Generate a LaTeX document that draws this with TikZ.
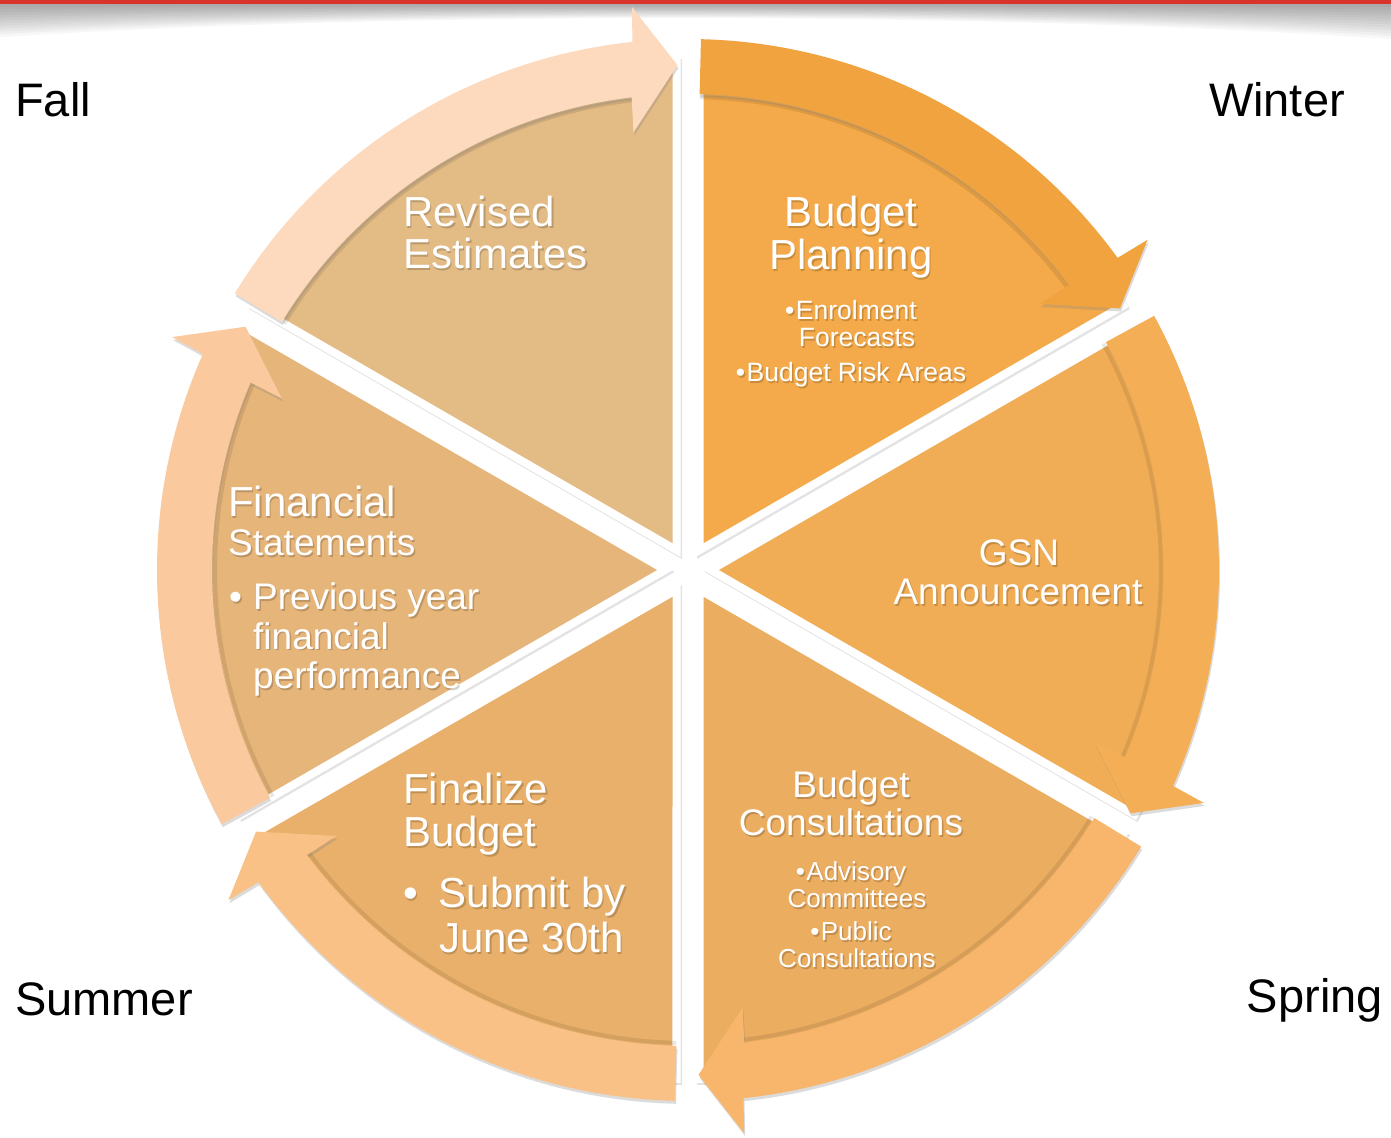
\documentclass[tikz,border=0pt]{standalone}
\usepackage{fontspec}
\setmainfont{Liberation Sans}
\usetikzlibrary{shadows,calc}
% sector colours
\definecolor{secRE}{HTML}{E3BB85}
\definecolor{secBP}{HTML}{F4AA4A}
\definecolor{secGSN}{HTML}{F0AD56}
\definecolor{secBC}{HTML}{EBAD60}
\definecolor{secFB}{HTML}{E8B06A}
\definecolor{secFS}{HTML}{E6B57A}
% arrow colours
\definecolor{arFallTop}{HTML}{FDDABE}
\definecolor{arWinter}{HTML}{F0A33E}
\definecolor{arGSN}{HTML}{F4AE56}
\definecolor{arSpring}{HTML}{F8B56C}
\definecolor{arSummer}{HTML}{FAC187}
\definecolor{arFallLeft}{HTML}{FACA9E}
\definecolor{hdrred}{HTML}{D8342C}
\tikzset{
  tw/.style={text=white,inner sep=0pt},
  tsh/.style={text=black,opacity=0.18,inner sep=0pt},
  season/.style={text=black,inner sep=0pt,font=\fontsize{47}{47}\selectfont},
  secshadow/.style={drop shadow={opacity=0.22,shadow xshift=1.5pt,shadow yshift=-2pt}},
  arrowshadow/.style={drop shadow={opacity=0.28,shadow xshift=1pt,shadow yshift=-3pt}},
  innershade/.style={draw=black,opacity=0.09,line width=4pt}
}
% text line: name, px x, px baseline y, size, anchor, text
\newcommand\plbl[6]{%
  \node[tsh,anchor=#5,font=\fontsize{#4}{#4}\selectfont] (#1s) at ({#2-688+1.5},{570-(#3)-2}) {#6};
  \node[tw,anchor=#5,font=\fontsize{#4}{#4}\selectfont] (#1) at ({#2-688},{570-(#3)}) {#6};}
% cycle arrow: tail boundary angle, head boundary angle, colour
\newcommand\cycarrow[3]{%
  \draw[innershade] ({#2+6.8}:473) arc[start angle={#2+6.8}, end angle={#1-1.4}, radius=473];
  \fill[#3,arrowshadow] ({#1-1.4}:531) arc[start angle={#1-1.4}, end angle={#2+6.0}, radius=531]
    -- ({#2+5.7}:566) -- ({#2+1.2}:505) -- ({#2+7.1}:441) -- ({#2+6.8}:476)
    arc[start angle={#2+6.8}, end angle={#1-1.4}, radius=476] -- cycle;}
\begin{document}
\begin{tikzpicture}[x=1pt,y=1pt]
\useasboundingbox (-688,-567) rectangle (703,570);
\fill[white] (-688,-567) rectangle (703,570);
% header shadow
\foreach \i in {1,...,12}{
  \fill[black,opacity=0.03] (-688,566) -- (703,566) -- (703,{566-38*(1-\i/13)})
    .. controls (300,{566-8*(1-\i/13)}) and (-300,{566-8*(1-\i/13)}) .. (-688,{566-36*(1-\i/13)}) -- cycle;
}
\fill[hdrred] (-688,570) rectangle (703,566);
% sectors
\foreach \m/\c in {60/secBP, 0/secGSN, -60/secBC, -120/secFB, 180/secFS, 120/secRE}{
  \fill[white,secshadow] (\m:15) -- ++({\m-30}:500) arc[start angle={\m-30}, end angle={\m+30}, radius=500] -- cycle;
  \fill[\c] (\m:31) -- ++({\m-30}:478.1) arc[start angle={\m-29.07}, end angle={\m+29.07}, radius=492] -- cycle;
}
% arrows
\cycarrow{150}{90}{arFallTop}
\cycarrow{90}{30}{arWinter}
\cycarrow{30}{-30}{arGSN}
\cycarrow{-30}{-90}{arSpring}
\cycarrow{-90}{-150}{arSummer}
\cycarrow{-150}{-210}{arFallLeft}
% season labels
\node[season,anchor=base west] (fall) at ({15-688},{570-117}) {Fall};
\node[season,anchor=base east] (winter) at ({1345-688},{570-117}) {Winter};
\node[season,anchor=base west] (summer) at ({15-688},{570-1015}) {Summer};
\node[season,anchor=base east] (spring) at ({1383-688},{570-1012}) {Spring};
% Revised Estimates
\plbl{r1}{403}{227}{42}{base west}{Revised}
\plbl{r2}{403}{269}{42}{base west}{Estimates}
% Budget Planning
\plbl{bp1}{851}{227}{42}{base}{Budget}
\plbl{bp2}{851}{270}{42}{base}{Planning}
\plbl{bp3}{851}{320}{26.5}{base}{•\hspace{1.5pt}Enrolment}
\plbl{bp4}{857}{347}{26.5}{base}{Forecasts}
\plbl{bp5}{851}{382}{26.5}{base}{•\hspace{1.5pt}Budget Risk Areas}
% GSN
\plbl{g1}{1019}{566}{37}{base}{GSN}
\plbl{g2}{1018}{605}{37}{base}{Announcement}
% Budget Consultations
\plbl{c1}{851}{797}{37}{base}{Budget}
\plbl{c2}{851}{835}{37}{base}{Consultations}
\plbl{c3}{851}{880}{26}{base}{•\hspace{1.5pt}Advisory}
\plbl{c4}{857}{907}{26}{base}{Committees}
\plbl{c5}{851}{940}{26}{base}{•\hspace{1.5pt}Public}
\plbl{c6}{857}{967}{26}{base}{Consultations}
% Finalize Budget
\plbl{f1}{403}{803}{42}{base west}{Finalize}
\plbl{f2}{403}{846}{42}{base west}{Budget}
\plbl{f3}{403}{907}{42}{base west}{•\hspace{21pt}Submit by}
\plbl{f5}{439}{952}{42}{base west}{June 30th}
% Financial Statements
\plbl{s1}{228}{517}{42}{base west}{Financial}
\plbl{s2}{228}{556}{37}{base west}{Statements}
\plbl{s3}{229}{610}{37}{base west}{•\hspace{11pt}Previous year}
\plbl{s5}{253}{649}{37}{base west}{financial}
\plbl{s6}{253}{688}{37}{base west}{performance}
\end{tikzpicture}
\end{document}
